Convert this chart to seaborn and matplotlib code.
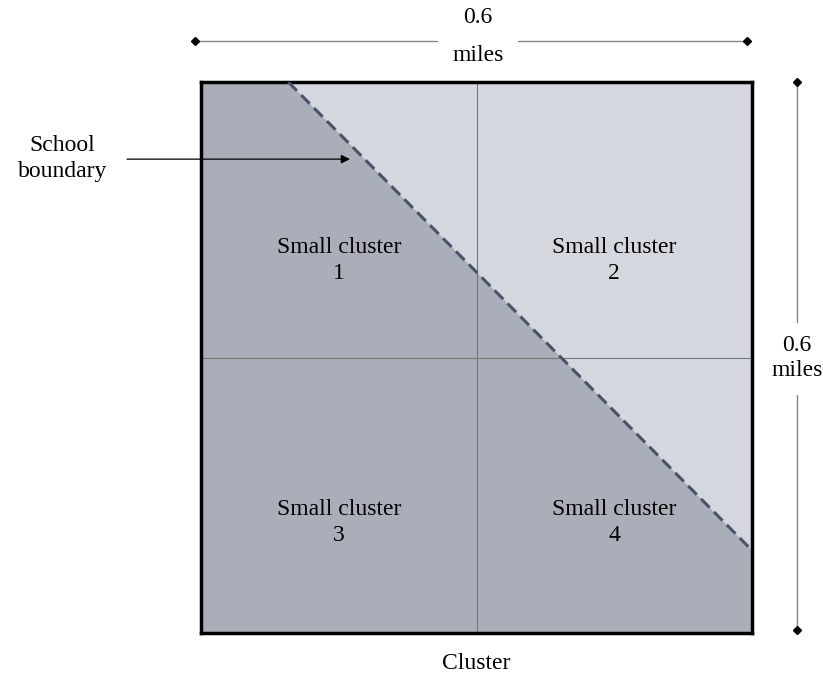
import numpy as np
import pandas as pd
import seaborn as sns
import matplotlib.pyplot as plt

side = 0.6  # miles
boundary_x = [0.095, 0.6]
boundary_y = [0.6, 0.09]
cluster_labels = ["Small cluster\n1", "Small cluster\n2", "Small cluster\n3", "Small cluster\n4"]
label_x = [0.15, 0.45, 0.15, 0.45]
label_y = [0.406, 0.406, 0.12, 0.12]

sns.set_style("white")
plt.rcParams["font.family"] = ["Liberation Serif", "DejaVu Serif"]
plt.rcParams["text.color"] = "black"

fig = plt.figure(figsize=(8.23, 6.75), dpi=100)
ax = fig.add_axes([201 / 823, 42 / 675, 551 / 823, 551 / 675])

dark = "#a9aeb8"
light = "#d4d7dd"
fs = 17

# background split by boundary
ax.fill_between([0, side], 0, side, color=light, zorder=0)
bx = np.array([0, boundary_x[0], boundary_x[1]])
by = np.array([side, side, boundary_y[1]])
ax.fill_between(bx, 0, by, color=dark, zorder=1, linewidth=0)

# quadrant lines
ax.axvline(side / 2, color="#777777", lw=0.8, zorder=2)
ax.axhline(side / 2, color="#777777", lw=0.8, zorder=2)

bdf = pd.DataFrame({"x": boundary_x, "y": boundary_y})
sns.lineplot(data=bdf, x="x", y="y", ax=ax, color="#4a5468", lw=2.2,
             linestyle=(0, (4, 2)), zorder=3)

for t, x, y in zip(cluster_labels, label_x, label_y):
    ax.text(x, y, t, ha="center", va="center", fontsize=fs, linespacing=1.3, zorder=4)

ax.set_xlim(0, side)
ax.set_ylim(0, side)
ax.set_xticks([])
ax.set_yticks([])
ax.set_xlabel("")
ax.set_ylabel("")
for s in ax.spines.values():
    s.set_visible(True)
    s.set_color("black")
    s.set_linewidth(2.5)

dim_kw = dict(color="#888888", lw=1.0, clip_on=False, zorder=5)
mk_kw = dict(marker="D", color="black", ms=4.5, linestyle="none", clip_on=False, zorder=6)

# horizontal dimension
hy = 0.6447
ax.plot([-0.0065, 0.257], [hy, hy], **dim_kw)
ax.plot([0.345, 0.5946], [hy, hy], **dim_kw)
ax.plot([-0.0065, 0.5946], [hy, hy], **mk_kw)
ax.text(0.3016, 0.6697, "0.6", ha="center", va="center", fontsize=fs, clip_on=False)
ax.text(0.3016, 0.6294, "miles", ha="center", va="center", fontsize=fs, clip_on=False)

# vertical dimension
vx = 0.649
ax.plot([vx, vx], [0.6, 0.339], **dim_kw)
ax.plot([vx, vx], [0.259, 0.0033], **dim_kw)
ax.plot([vx, vx], [0.6, 0.0033], **mk_kw)
ax.text(vx, 0.2995, "0.6\nmiles", ha="center", va="center", fontsize=fs,
        linespacing=1.3, clip_on=False)

# school boundary annotation
ax.annotate("", xy=(0.1622, 0.516), xytext=(-0.0806, 0.516),
            arrowprops=dict(arrowstyle="-|>", color="black", lw=0.9,
                            mutation_scale=13, shrinkA=0, shrinkB=0),
            annotation_clip=False, zorder=7)
ax.text(-0.151, 0.517, "School\nboundary", ha="center", va="center", fontsize=fs,
        linespacing=1.3, clip_on=False)

ax.text(0.3, -0.033, "Cluster", ha="center", va="center", fontsize=fs, clip_on=False)

fig.savefig("out.png", dpi=100)
